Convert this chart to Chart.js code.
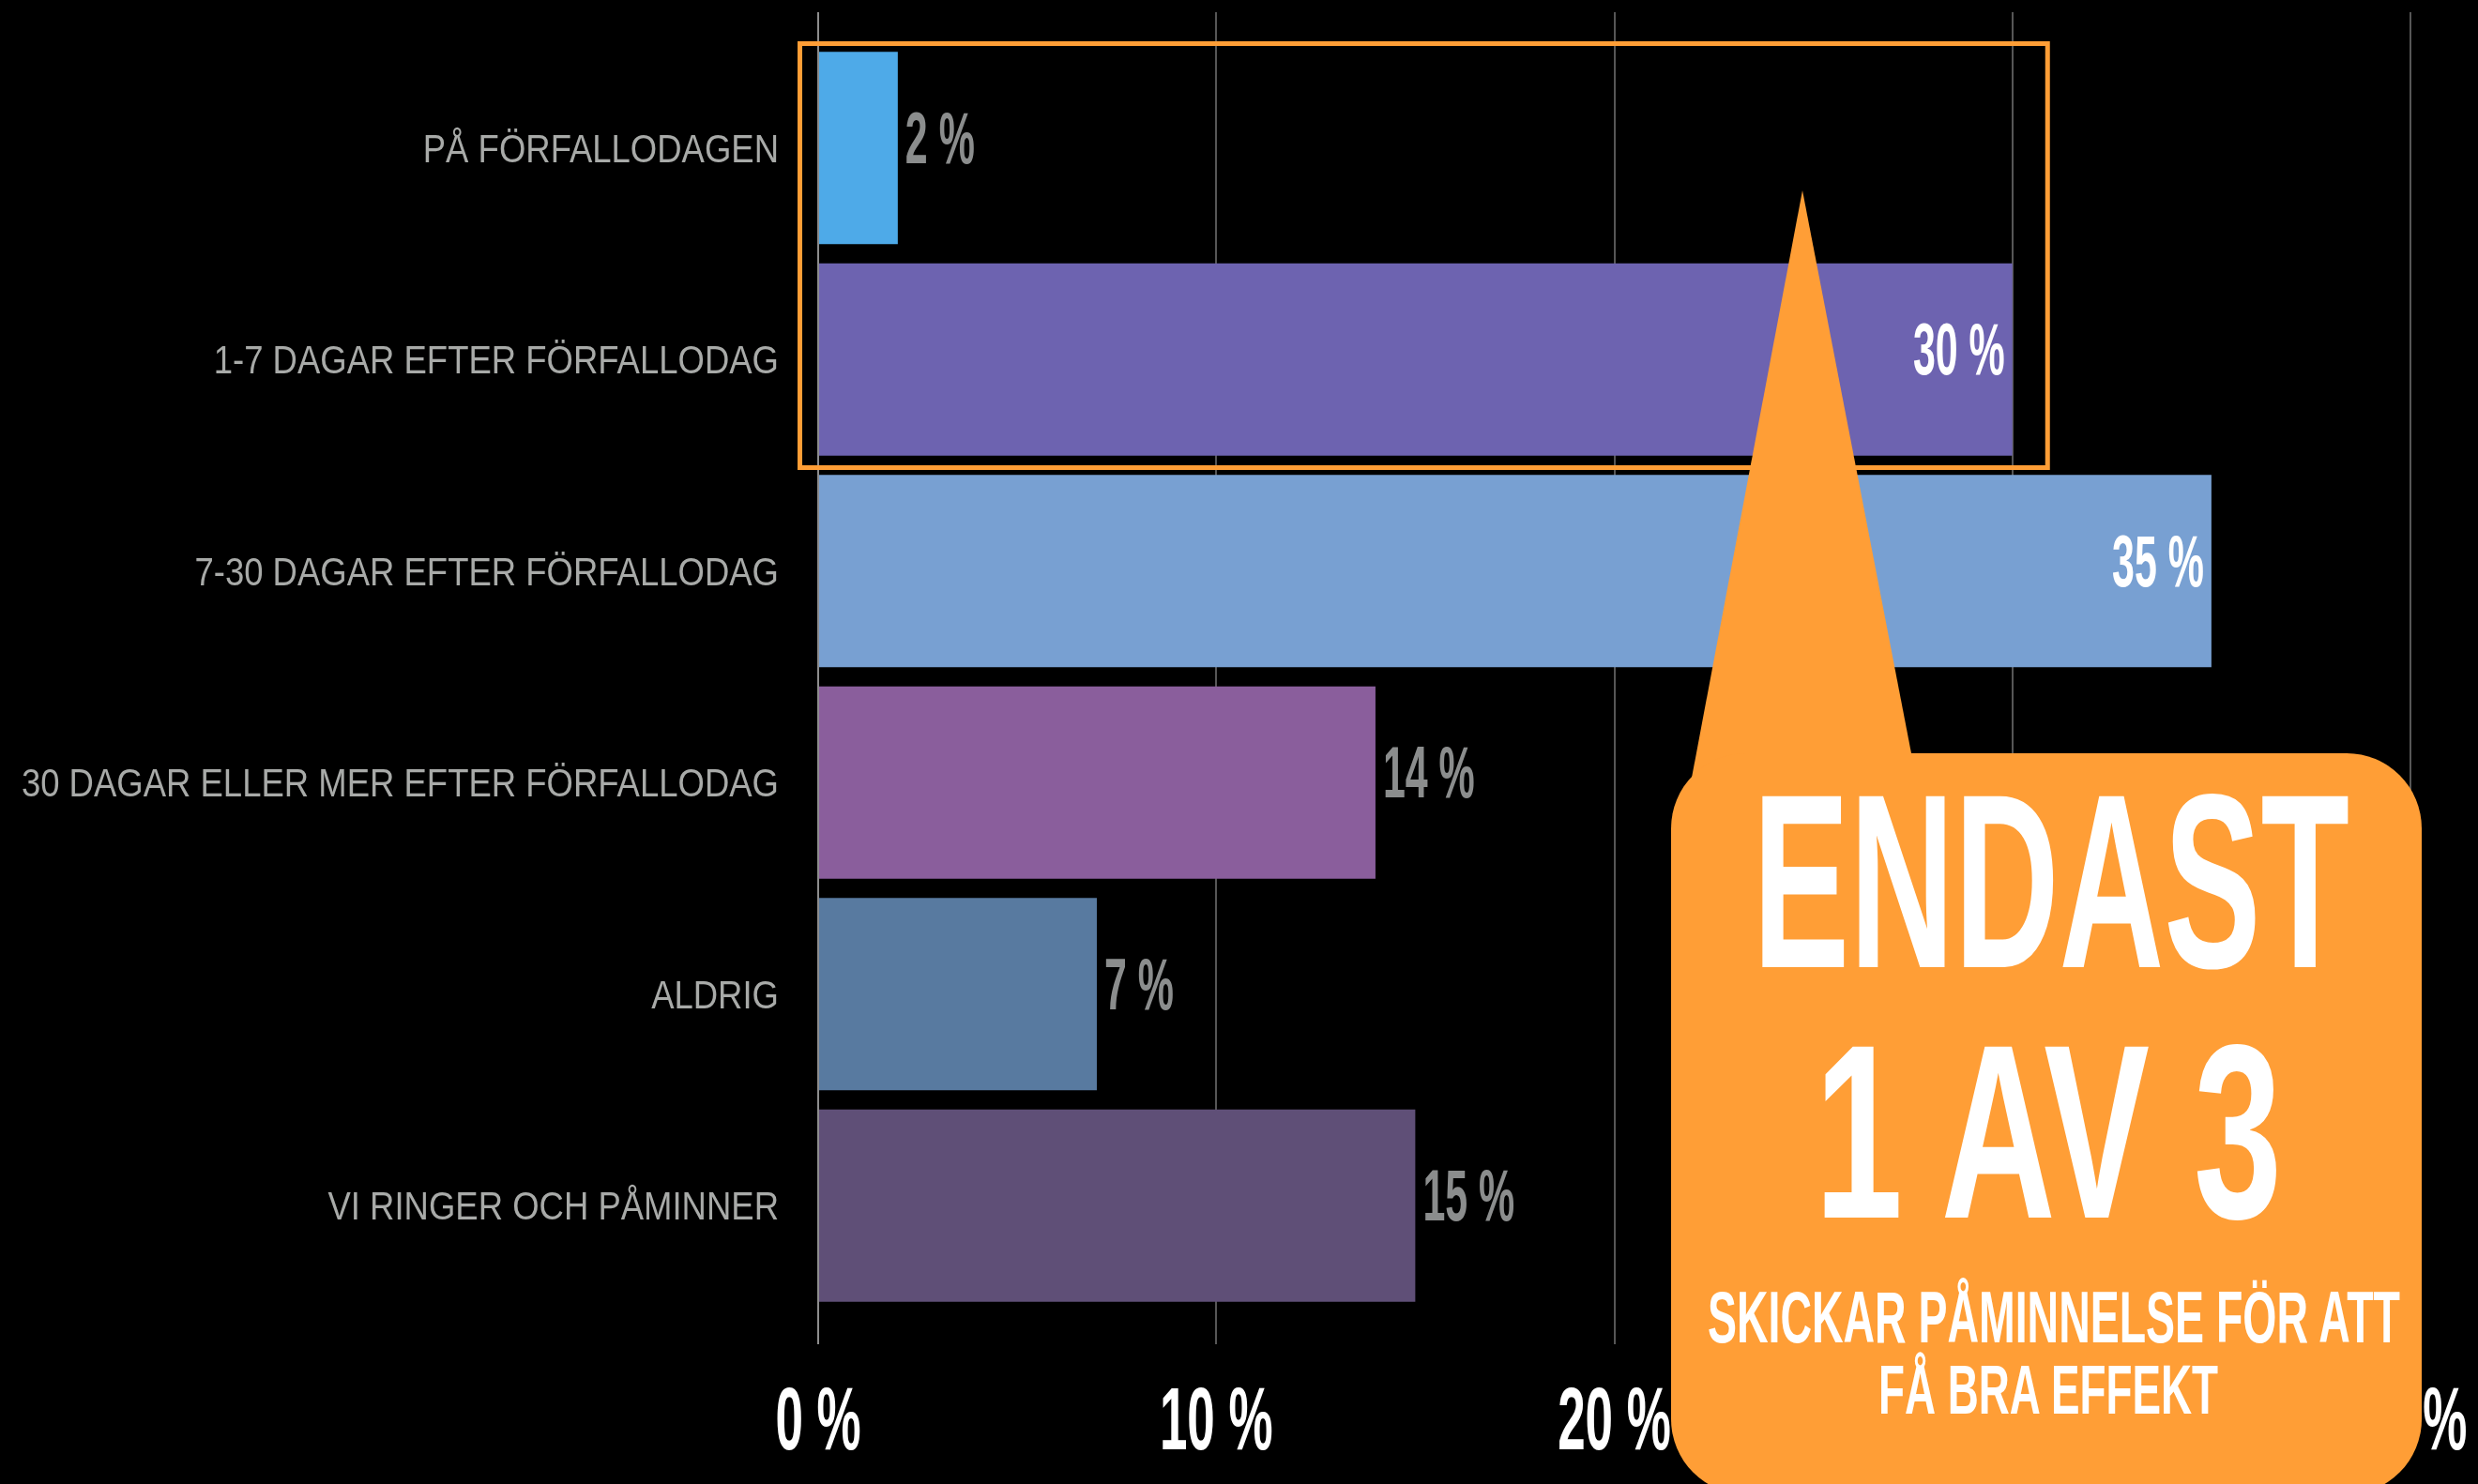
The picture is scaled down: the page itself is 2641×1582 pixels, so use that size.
<!DOCTYPE html>
<html lang="sv">
<head>
<meta charset="utf-8">
<title>Påminnelse efter förfallodag</title>
<script src="https://cdn.jsdelivr.net/npm/chart.js@4.4.1/dist/chart.umd.min.js"></script>
<style>
  html, body { margin: 0; padding: 0; background: #000; overflow: hidden; }
  #wrap { position: relative; width: 2641px; height: 1582px; }
  #callout { position: absolute; left: 0; top: 0; pointer-events: none; }
  #callout text { font-family: 'Liberation Sans Narrow', 'Liberation Sans', sans-serif; font-weight: bold; fill: #fff; }
</style>
</head>
<body>
<div id="wrap">
  <canvas id="chart"></canvas>
  <!-- callout bubble -->
  <svg id="callout" width="2641" height="1582">
    <polygon points="1921,203 2037,803 1800,845" fill="#ff9e36"/>
    <rect x="1781" y="803" width="800" height="790" rx="80" ry="80" fill="#ff9e36"/>
    <text x="1868" y="1031" font-size="265" textLength="636" lengthAdjust="spacingAndGlyphs">ENDAST</text>
    <text x="1934" y="1298" font-size="265" textLength="498" lengthAdjust="spacingAndGlyphs">1 AV 3</text>
    <text x="1820" y="1431" font-size="78" textLength="738" lengthAdjust="spacingAndGlyphs">SKICKAR PÅMINNELSE FÖR ATT</text>
    <text x="2002" y="1507" font-size="75" textLength="362" lengthAdjust="spacingAndGlyphs">FÅ BRA EFFEKT</text>
  </svg>
</div>
<script>
// ============================================
// DATA
// ============================================

const CATEGORIES = [
  'PÅ FÖRFALLODAGEN',
  '1-7 DAGAR EFTER FÖRFALLODAG',
  '7-30 DAGAR EFTER FÖRFALLODAG',
  '30 DAGAR ELLER MER EFTER FÖRFALLODAG',
  'ALDRIG',
  'VI RINGER OCH PÅMINNER'
];
const VALUES = [2, 30, 35, 14, 7, 15];
const BAR_COLORS = ['#4eaae8', '#6d63b0', '#78a0d2', '#8a5e9c', '#587aa0', '#5f4f77'];
const X_TICKS = [0, 10, 20, 30, 40];
const HIGHLIGHT = [0, 1]; // categories inside the orange frame

// ============================================
// STYLE
// ============================================

const FONT = "'Liberation Sans Narrow', 'Liberation Sans', sans-serif";
const ORANGE = '#ff9e36';
const LABEL_GRAY = '#8b8d8d';
const CATEGORY_GRAY = '#a8aaa8';

function gridColor(c) {
  return c.tick && c.tick.value === 0 ? '#8d8d8d' : '#565656';
}

// draw squeezed text (stand-in for a condensed face)
// digitEm = wanted width of a '0' in em
function drawNarrow(ctx, text, x, y, align, size, weight, digitEm, baseline) {
  ctx.font = weight + ' ' + size + 'px ' + FONT;
  const sx = digitEm * size / ctx.measureText('0').width;
  ctx.save();
  ctx.translate(x, y);
  ctx.scale(sx, 1);
  ctx.textAlign = align;
  ctx.textBaseline = baseline || 'alphabetic';
  ctx.fillText(text, 0, 0);
  ctx.restore();
}

// category labels, value labels, highlight frame and x tick labels
const overlayPlugin = {
  id: 'overlay',
  afterDatasetsDraw(chart) {
    const ctx = chart.ctx;
    const meta = chart.getDatasetMeta(0);
    const ys = chart.scales.y;
    const xs = chart.scales.x;

    // category labels
    ctx.fillStyle = CATEGORY_GRAY;
    CATEGORIES.forEach((label, i) => {
      drawNarrow(ctx, label, chart.chartArea.left - 42, ys.getPixelForValue(i) + 15, 'right', 43, 'normal', 0.472);
    });

    // value labels
    meta.data.forEach((bar, i) => {
      const v = VALUES[i];
      const inside = v >= 20;
      ctx.fillStyle = inside ? '#ffffff' : LABEL_GRAY;
      drawNarrow(ctx, v + ' %', inside ? bar.x - 8 : bar.x + 8, bar.y + 16, inside ? 'right' : 'left', 77, 'bold', 0.31);
    });

    // orange frame round the first two rows
    const pitch = ys.getPixelForValue(1) - ys.getPixelForValue(0);
    const top = ys.getPixelForValue(HIGHLIGHT[0]) - pitch / 2 + 1.5;
    const bottom = ys.getPixelForValue(HIGHLIGHT[HIGHLIGHT.length - 1]) + pitch / 2 + 2.5;
    const left = xs.getPixelForValue(0) - 19.5;
    const right = xs.getPixelForValue(VALUES[HIGHLIGHT[1]]) + 37.5;
    ctx.save();
    ctx.strokeStyle = ORANGE;
    ctx.lineWidth = 5;
    ctx.strokeRect(left, top, right - left, bottom - top);
    ctx.restore();
  },
  afterDraw(chart) {
    const ctx = chart.ctx;
    const xs = chart.scales.x;
    ctx.fillStyle = '#ffffff';
    X_TICKS.forEach(v => {
      drawNarrow(ctx, v + ' %', xs.getPixelForValue(v), xs.bottom + 112, 'center', 95, 'bold', 0.31);
    });
  }
};

// ============================================
// CHART
// ============================================

new Chart(document.getElementById('chart'), {
  type: 'bar',
  data: {
    labels: CATEGORIES,
    datasets: [{
      data: VALUES,
      backgroundColor: BAR_COLORS,
      borderWidth: 0,
      barPercentage: 0.91,
      categoryPercentage: 1.0
    }]
  },
  options: {
    indexAxis: 'y',
    responsive: true,
    maintainAspectRatio: false,
    animation: false,
    layout: { padding: { top: 13, right: 72, bottom: 149, left: 0 } },
    plugins: {
      legend: { display: false },
      tooltip: { enabled: false }
    },
    scales: {
      x: {
        type: 'linear',
        position: 'bottom',
        min: 0,
        max: 40,
        ticks: { stepSize: 10, display: false },
        grid: { color: gridColor, lineWidth: 2, drawTicks: true, tickLength: 35 },
        border: { display: false }
      },
      // top axis only used to run the grid lines above the bars
      x2: {
        type: 'linear',
        position: 'top',
        min: 0,
        max: 40,
        ticks: { stepSize: 10, display: false },
        grid: { color: gridColor, lineWidth: 2, drawOnChartArea: false, drawTicks: true, tickLength: 32 },
        border: { display: false }
      },
      y: {
        grid: { display: false, drawTicks: false },
        border: { display: false },
        ticks: { display: false },
        afterFit(scale) { scale.width = 872; }
      }
    }
  },
  plugins: [overlayPlugin]
});
</script>
</body>
</html>
